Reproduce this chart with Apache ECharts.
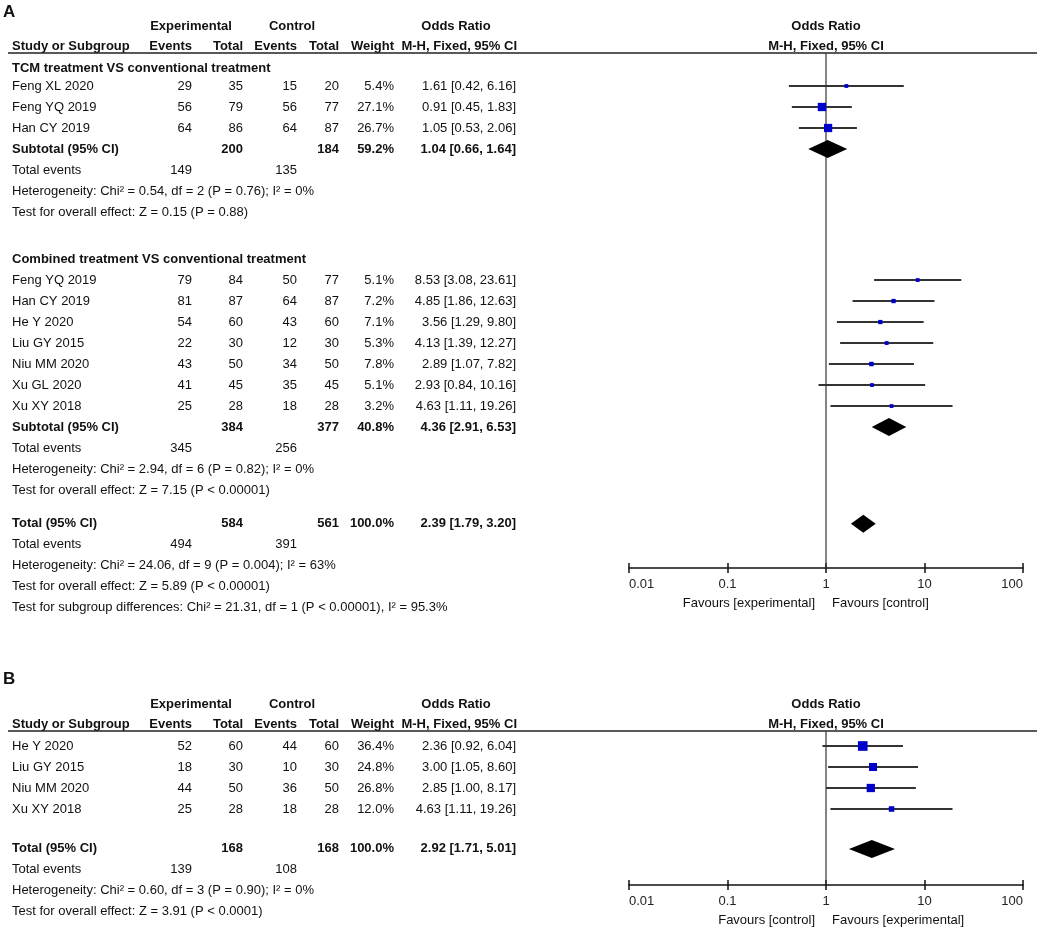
<!DOCTYPE html>
<html>
<head>
<meta charset="utf-8">
<script src="https://cdn.jsdelivr.net/npm/echarts@6/dist/echarts.min.js"></script>
<style>
  html, body { margin: 0; padding: 0; background: #fff; }
  #chart { width: 1038px; height: 932px; }
</style>
</head>
<body>
<div id="chart"></div>
<script>
// ---------- data: panel A, subgroup 1 ----------
var a1Name = 'TCM treatment VS conventional treatment';
var a1Study = ['Feng XL 2020', 'Feng YQ 2019', 'Han CY 2019'];
var a1ExpEvents = [29, 56, 64];
var a1ExpTotal = [35, 79, 86];
var a1CtrlEvents = [15, 56, 64];
var a1CtrlTotal = [20, 77, 87];
var a1Weight = [5.4, 27.1, 26.7];
var a1OR = [1.61, 0.91, 1.05];
var a1Low = [0.42, 0.45, 0.53];
var a1High = [6.16, 1.83, 2.06];
var a1SubTotals = [200, 184];
var a1SubEvents = [149, 135];
var a1SubWeight = 59.2;
var a1SubOR = [1.04, 0.66, 1.64];
var a1Notes = ['Heterogeneity: Chi\u00b2 = 0.54, df = 2 (P = 0.76); I\u00b2 = 0%',
               'Test for overall effect: Z = 0.15 (P = 0.88)'];

// ---------- data: panel A, subgroup 2 ----------
var a2Name = 'Combined treatment VS conventional treatment';
var a2Study = ['Feng YQ 2019', 'Han CY 2019', 'He Y 2020', 'Liu GY 2015', 'Niu MM 2020', 'Xu GL 2020', 'Xu XY 2018'];
var a2ExpEvents = [79, 81, 54, 22, 43, 41, 25];
var a2ExpTotal = [84, 87, 60, 30, 50, 45, 28];
var a2CtrlEvents = [50, 64, 43, 12, 34, 35, 18];
var a2CtrlTotal = [77, 87, 60, 30, 50, 45, 28];
var a2Weight = [5.1, 7.2, 7.1, 5.3, 7.8, 5.1, 3.2];
var a2OR = [8.53, 4.85, 3.56, 4.13, 2.89, 2.93, 4.63];
var a2Low = [3.08, 1.86, 1.29, 1.39, 1.07, 0.84, 1.11];
var a2High = [23.61, 12.63, 9.80, 12.27, 7.82, 10.16, 19.26];
var a2SubTotals = [384, 377];
var a2SubEvents = [345, 256];
var a2SubWeight = 40.8;
var a2SubOR = [4.36, 2.91, 6.53];
var a2Notes = ['Heterogeneity: Chi\u00b2 = 2.94, df = 6 (P = 0.82); I\u00b2 = 0%',
               'Test for overall effect: Z = 7.15 (P < 0.00001)'];

// ---------- data: panel A, overall ----------
var aTotTotals = [584, 561];
var aTotEvents = [494, 391];
var aTotWeight = 100.0;
var aTotOR = [2.39, 1.79, 3.20];
var aTotNotes = ['Heterogeneity: Chi\u00b2 = 24.06, df = 9 (P = 0.004); I\u00b2 = 63%',
                 'Test for overall effect: Z = 5.89 (P < 0.00001)',
                 'Test for subgroup differences: Chi\u00b2 = 21.31, df = 1 (P < 0.00001), I\u00b2 = 95.3%'];
var aFavours = ['Favours [experimental]', 'Favours [control]'];

// ---------- data: panel B ----------
var bStudy = ['He Y 2020', 'Liu GY 2015', 'Niu MM 2020', 'Xu XY 2018'];
var bExpEvents = [52, 18, 44, 25];
var bExpTotal = [60, 30, 50, 28];
var bCtrlEvents = [44, 10, 36, 18];
var bCtrlTotal = [60, 30, 50, 28];
var bWeight = [36.4, 24.8, 26.8, 12.0];
var bOR = [2.36, 3.00, 2.85, 4.63];
var bLow = [0.92, 1.05, 1.00, 1.11];
var bHigh = [6.04, 8.60, 8.17, 19.26];
var bTotTotals = [168, 168];
var bTotEvents = [139, 108];
var bTotWeight = 100.0;
var bTotOR = [2.92, 1.71, 5.01];
var bTotNotes = ['Heterogeneity: Chi\u00b2 = 0.60, df = 3 (P = 0.90); I\u00b2 = 0%',
                 'Test for overall effect: Z = 3.91 (P < 0.0001)'];
var bFavours = ['Favours [control]', 'Favours [experimental]'];

var axisTicks = [0.01, 0.1, 1, 10, 100];

// ---------- layout ----------
var FONT = '"Liberation Sans", Arial, sans-serif';
var PITCH = 21;
var COL = { name: 12, ee: 192, et: 243, ce: 297, ct: 339, w: 394, or: 516 };
var PLOT_LEFT = 629, PLOT_W = 394, NULL_X = 826;
var panels = [
  { label: 'A', labelY: 12, lineY: 53, y0: 86, axisY: 568, favours: aFavours },
  { label: 'B', labelY: 679, lineY: 731, y0: 746, axisY: 885, favours: bFavours }
];

function fmtOR(v) { return v[0].toFixed(2) + ' [' + v[1].toFixed(2) + ', ' + v[2].toFixed(2) + ']'; }
function fmtW(w) { return w.toFixed(1) + '%'; }

var graphics = [];
var studyPts = [[], []];
var diamondPts = [[], []];

function txt(s, x, y, align, bold, size) {
  graphics.push({
    type: 'text', x: x, y: y, silent: true,
    style: {
      text: String(s), font: (bold ? 'bold ' : '') + (size || 13) + 'px ' + FONT,
      fill: '#111', textAlign: align, textVerticalAlign: 'middle',
      align: align, verticalAlign: 'middle'
    }
  });
}

function rowY(p, r) { return panels[p].y0 + r * PITCH; }

function addStudies(p, r, study, ee, et, ce, ct, w, or, lo, hi) {
  for (var i = 0; i < study.length; i++) {
    var y = rowY(p, r);
    txt(study[i], COL.name, y, 'left');
    txt(ee[i], COL.ee, y, 'right');
    txt(et[i], COL.et, y, 'right');
    txt(ce[i], COL.ce, y, 'right');
    txt(ct[i], COL.ct, y, 'right');
    txt(fmtW(w[i]), COL.w, y, 'right');
    txt(fmtOR([or[i], lo[i], hi[i]]), COL.or, y, 'right');
    studyPts[p].push([or[i], lo[i], hi[i], r, w[i]]);
    r += 1;
  }
  return r;
}

function addSummary(p, r, title, totals, events, weight, orv, notes) {
  var y = rowY(p, r);
  txt(title, COL.name, y, 'left', true);
  txt(totals[0], COL.et, y, 'right', true);
  txt(totals[1], COL.ct, y, 'right', true);
  txt(fmtW(weight), COL.w, y, 'right', true);
  txt(fmtOR(orv), COL.or, y, 'right', true);
  diamondPts[p].push([orv[0], orv[1], orv[2], r]);
  r += 1;
  y = rowY(p, r);
  txt('Total events', COL.name, y, 'left');
  txt(events[0], COL.ee, y, 'right');
  txt(events[1], COL.ce, y, 'right');
  r += 1;
  for (var i = 0; i < notes.length; i++) {
    txt(notes[i], COL.name, rowY(p, r), 'left');
    r += 1;
  }
  return r;
}

// panel A rows
var r = 0;
txt(a1Name, COL.name, rowY(0, -0.86), 'left', true);
r = addStudies(0, 0, a1Study, a1ExpEvents, a1ExpTotal, a1CtrlEvents, a1CtrlTotal, a1Weight, a1OR, a1Low, a1High);
r = addSummary(0, r, 'Subtotal (95% CI)', a1SubTotals, a1SubEvents, a1SubWeight, a1SubOR, a1Notes);
r += 1.24;
txt(a2Name, COL.name, rowY(0, r), 'left', true);
r += 1;
r = addStudies(0, r, a2Study, a2ExpEvents, a2ExpTotal, a2CtrlEvents, a2CtrlTotal, a2Weight, a2OR, a2Low, a2High);
r = addSummary(0, r, 'Subtotal (95% CI)', a2SubTotals, a2SubEvents, a2SubWeight, a2SubOR, a2Notes);
r += 0.6;
addSummary(0, r, 'Total (95% CI)', aTotTotals, aTotEvents, aTotWeight, aTotOR, aTotNotes);

// panel B rows
r = addStudies(1, 0, bStudy, bExpEvents, bExpTotal, bCtrlEvents, bCtrlTotal, bWeight, bOR, bLow, bHigh);
r += 0.9;
addSummary(1, r, 'Total (95% CI)', bTotTotals, bTotEvents, bTotWeight, bTotOR, bTotNotes);

// headers, rules, favours labels
panels.forEach(function (pn) {
  txt(pn.label, 3, pn.labelY, 'left', true, 17);
  var h1 = pn.lineY - 27, h2 = pn.lineY - 7;
  txt('Experimental', 191, h1, 'center', true);
  txt('Control', 292, h1, 'center', true);
  txt('Odds Ratio', 456, h1, 'center', true);
  txt('Odds Ratio', NULL_X, h1, 'center', true);
  txt('Study or Subgroup', COL.name, h2, 'left', true);
  txt('Events', COL.ee, h2, 'right', true);
  txt('Total', COL.et, h2, 'right', true);
  txt('Events', COL.ce, h2, 'right', true);
  txt('Total', COL.ct, h2, 'right', true);
  txt('Weight', COL.w, h2, 'right', true);
  txt('M-H, Fixed, 95% CI', COL.or + 1, h2, 'right', true);
  txt('M-H, Fixed, 95% CI', NULL_X, h2, 'center', true);
  graphics.push({
    type: 'line', silent: true,
    shape: { x1: 8, y1: pn.lineY, x2: 1037, y2: pn.lineY },
    style: { stroke: '#222', lineWidth: 1.5 }
  });
  txt(pn.favours[0], 815, pn.axisY + 35, 'right');
  txt(pn.favours[1], 832, pn.axisY + 35, 'left');
});

// ---------- chart ----------
var tickStyle = { color: '#111', width: 1.5 };
function logAxisBase(g) {
  return {
    type: 'log', logBase: 10, gridIndex: g,
    min: axisTicks[0], max: axisTicks[axisTicks.length - 1],
    splitLine: { show: false },
    minorTick: { show: false }
  };
}
// main axis: line, downward ticks and labels
function mainAxis(g) {
  var ax = logAxisBase(g);
  ax.position = 'bottom';
  ax.axisLine = { show: true, onZero: false, lineStyle: tickStyle };
  ax.axisTick = { show: true, inside: false, length: 5, lineStyle: tickStyle };
  ax.axisLabel = {
    show: true, margin: 10, fontSize: 13, fontFamily: FONT, color: '#222',
    alignMinLabel: 'left', alignMaxLabel: 'right',
    formatter: function (v) { return String(Number(v.toPrecision(2))); }
  };
  return ax;
}
// companion axis, moved down onto the main one, for the upward half of the ticks
function tickAxis(g, h) {
  var ax = logAxisBase(g);
  ax.position = 'top';
  ax.offset = -h;
  ax.axisLine = { show: false, onZero: false };
  ax.axisTick = { show: true, inside: false, length: 5, lineStyle: tickStyle };
  ax.axisLabel = { show: false };
  return ax;
}

var grids = [], xAxes = [], yAxes = [], series = [];
panels.forEach(function (pn, p) {
  var yMin = (pn.lineY - pn.y0) / PITCH;
  var yMax = (pn.axisY - pn.y0) / PITCH;
  var h = pn.axisY - pn.lineY;
  grids.push({ left: PLOT_LEFT, width: PLOT_W, top: pn.lineY, height: h });
  xAxes.push(mainAxis(p));
  xAxes.push(tickAxis(p, h));
  yAxes.push({ type: 'value', gridIndex: p, inverse: true, min: yMin, max: yMax, show: false });

  // line of no effect
  series.push({
    type: 'line', xAxisIndex: p * 2, yAxisIndex: p, silent: true, symbol: 'none', z: 2,
    data: [[1, yMin], [1, yMax]],
    lineStyle: { color: '#333', width: 1.2 }
  });

  // study CIs and weighted squares
  series.push({
    type: 'custom', xAxisIndex: p * 2, yAxisIndex: p, silent: true, z: 3,
    data: studyPts[p], encode: { x: [0, 1, 2], y: 3 },
    renderItem: function (params, api) {
      var y = api.value(3);
      var c = api.coord([api.value(0), y]);
      var l = api.coord([api.value(1), y]);
      var hi = api.coord([api.value(2), y]);
      var s = Math.max(3.8, 1.6 * Math.sqrt(api.value(4)));
      return {
        type: 'group', children: [
          { type: 'line', shape: { x1: l[0], y1: c[1], x2: hi[0], y2: c[1] },
            style: { stroke: '#333', lineWidth: 2 } },
          { type: 'rect', shape: { x: c[0] - s / 2, y: c[1] - s / 2, width: s, height: s },
            style: { fill: '#0000cc' } }
        ]
      };
    }
  });

  // pooled diamonds
  series.push({
    type: 'custom', xAxisIndex: p * 2, yAxisIndex: p, silent: true, z: 3,
    data: diamondPts[p], encode: { x: [0, 1, 2], y: 3 },
    renderItem: function (params, api) {
      var y = api.value(3);
      var c = api.coord([api.value(0), y]);
      var l = api.coord([api.value(1), y]);
      var hi = api.coord([api.value(2), y]);
      var hh = 9;
      return {
        type: 'polygon',
        shape: { points: [[l[0], c[1]], [c[0], c[1] - hh], [hi[0], c[1]], [c[0], c[1] + hh]] },
        style: { fill: '#000' }
      };
    }
  });
});

var chart = echarts.init(document.getElementById('chart'), null, { renderer: 'canvas' });
chart.setOption({
  backgroundColor: '#fff',
  animation: false,
  grid: grids,
  xAxis: xAxes,
  yAxis: yAxes,
  series: series,
  graphic: { elements: graphics }
});
</script>
</body>
</html>
